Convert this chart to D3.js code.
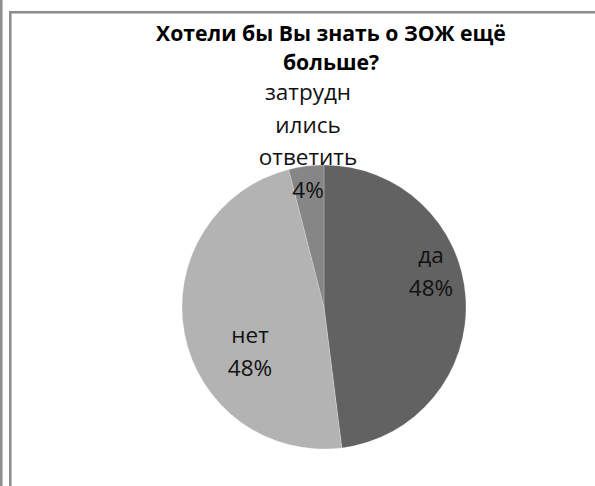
<!DOCTYPE html>
<html>
<head>
<meta charset="utf-8">
<script src="https://cdn.jsdelivr.net/npm/d3@7/dist/d3.min.js"></script>
<style>
  html, body { margin: 0; padding: 0; background: #ffffff; }
  svg { display: block; }
</style>
</head>
<body>
<svg id="chart" width="595" height="486"></svg>
<script>
// Survey answers: "Would you like to know even more about a healthy lifestyle?"
const categories = ["да", "нет", "затруднились ответить"];
const values = [48, 48, 4];
// How each category name is broken across lines inside its label
const labelNames = [["да"], ["нет"], ["затрудн", "ились", "ответить"]];
const titleLines = ["Хотели бы Вы знать о ЗОЖ ещё", "больше?"];

// Styling
const sliceColors = ["#626262", "#b3b3b3", "#868686"];
const frameColor = "#8c8c8c";
const fontFamily = "'Open Sans', 'Noto Sans', 'DejaVu Sans', sans-serif";

// Layout
const width = 595, height = 486;
const cx = 324, cy = 307, radius = 142;
// label anchor: x offset from centre, first baseline offset from centre
const labelAnchor = [
  { dx: 107, dy: -44 },
  { dx: -74, dy: 36 },
  { dx: -16, dy: -207 }
];
const labelLineHeight = 32.5;

const svg = d3.select("#chart");

// Page rule and chart-area frame
svg.append("line").attr("x1", 1.3).attr("x2", 1.3).attr("y1", 0).attr("y2", height)
  .attr("stroke", frameColor).attr("stroke-width", 2.5);
svg.append("line").attr("x1", 10.3).attr("x2", 10.3).attr("y1", 11).attr("y2", height)
  .attr("stroke", frameColor).attr("stroke-width", 2.5);
svg.append("line").attr("x1", 9).attr("x2", width).attr("y1", 12.2).attr("y2", 12.2)
  .attr("stroke", frameColor).attr("stroke-width", 2.5);

// Title
const title = svg.append("text")
  .attr("text-anchor", "middle")
  .attr("font-family", fontFamily)
  .attr("font-weight", "bold")
  .attr("font-size", 21.2)
  .attr("fill", "#000");
titleLines.forEach((t, i) => {
  title.append("tspan").attr("x", 331).attr("y", 41 + i * 29).text(t);
});

// Pie
const total = d3.sum(values);
const pie = d3.pie().sort(null).value(d => d)(values);
const arc = d3.arc().innerRadius(0).outerRadius(radius);
const color = d3.scaleOrdinal().domain(categories).range(sliceColors);

const g = svg.append("g").attr("transform", `translate(${cx},${cy})`);
g.selectAll("path.slice")
  .data(pie)
  .join("path")
  .attr("class", "slice")
  .attr("d", arc)
  .attr("fill", (d, i) => color(categories[i]))
  .attr("stroke", "#ffffff")
  .attr("stroke-opacity", 0.35)
  .attr("stroke-width", 0.6);

// Data labels: category name + share of total
const pct = d3.format(".0%");
pie.forEach((d, i) => {
  const lines = labelNames[i].concat([pct(d.value / total)]);
  const t = g.append("text")
    .attr("text-anchor", "middle")
    .attr("font-family", fontFamily)
    .attr("font-size", 22.5)
    .attr("fill", "#111");
  lines.forEach((s, j) => {
    t.append("tspan")
      .attr("x", labelAnchor[i].dx)
      .attr("y", labelAnchor[i].dy + j * labelLineHeight)
      .text(s);
  });
});
</script>
</body>
</html>
